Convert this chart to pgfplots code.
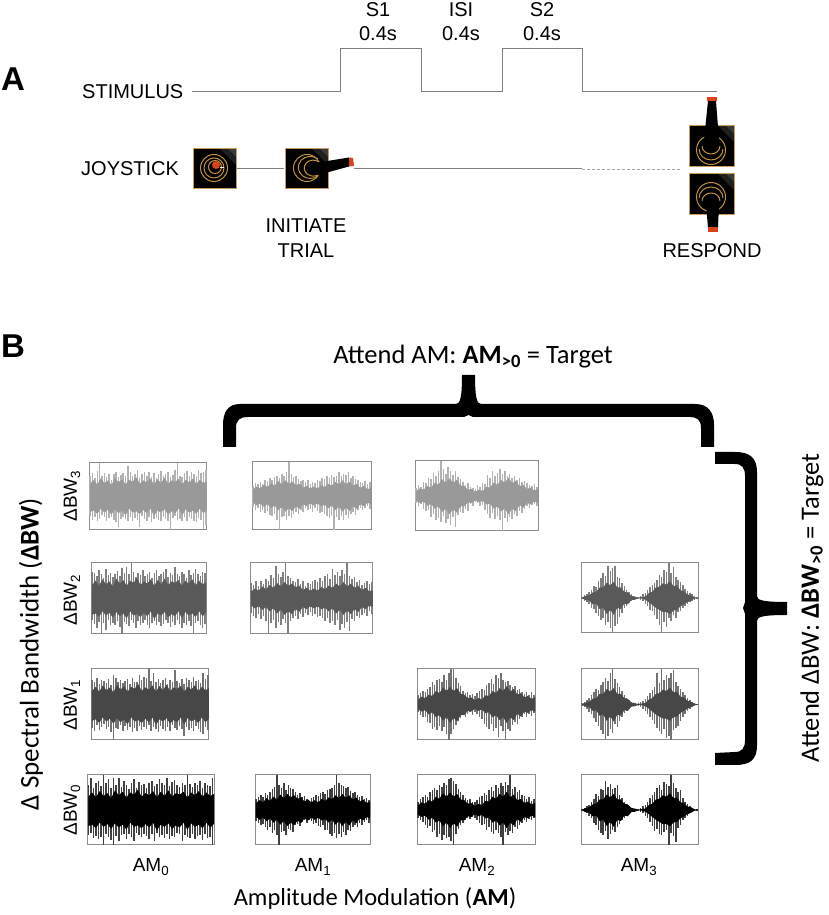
\documentclass[border=0pt]{standalone}
\usepackage{fontspec}
\usepackage{pgfplots}
\usepackage{pgfplotstable}
\pgfplotsset{compat=1.18}
\setmainfont{Liberation Sans}
\newfontfamily\calib{Carlito}
\newcommand\sz[1]{\fontsize{#1}{#1}\selectfont}
\definecolor{stepline}{HTML}{808080}
\definecolor{frameg}{HTML}{8C8C8C}
\definecolor{gold}{HTML}{C0913A}
\definecolor{tan}{HTML}{C89B62}
\definecolor{tip}{HTML}{D8431C}

% waveform peaks, percent of half the frame height, left to right
\pgfplotstableread[row sep=\\]{hi lo\\
60 -58\\70 -70\\55 -62\\75 -72\\100 -66\\62 -56\\70 -60\\58 -74\\68 -64\\50 -60\\
66 -70\\72 -76\\58 -92\\64 -68\\70 -62\\60 -66\\92 -72\\74 -60\\60 -74\\68 -64\\
78 -70\\56 -90\\66 -58\\72 -66\\60 -72\\74 -60\\58 -76\\70 -68\\54 -64\\66 -70\\
76 -74\\60 -60\\68 -66\\72 -72\\58 -100\\64 -64\\80 -58\\100 -70\\62 -66\\58 -72\\
70 -62\\76 -74\\60 -60\\72 -68\\66 -72\\62 -76\\78 -64\\70 -70\\74 -98\\80 -86\\
}\bwthreeamzero
\pgfplotstableread[row sep=\\]{hi lo\\
30 -32\\38 -40\\34 -36\\42 -46\\36 -42\\48 -50\\44 -44\\52 -56\\46 -60\\56 -54\\
60 -70\\52 -100\\66 -62\\58 -58\\70 -72\\100 -60\\64 -66\\56 -54\\60 -48\\50 -52\\
44 -40\\48 -46\\40 -34\\46 -42\\36 -38\\42 -48\\38 -36\\48 -44\\44 -50\\52 -46\\
50 -54\\58 -58\\54 -66\\62 -60\\56 -100\\60 -62\\72 -72\\58 -58\\66 -70\\62 -56\\
70 -66\\54 -52\\60 -48\\50 -56\\46 -42\\42 -36\\38 -40\\44 -34\\36 -30\\40 -38\\
}\bwthreeamone
\pgfplotstableread[row sep=\\]{hi lo\\
22 -20\\30 -28\\26 -24\\40 -36\\36 -44\\52 -40\\48 -60\\66 -52\\58 -70\\70 -62\\
100 -74\\78 -58\\62 -76\\84 -66\\70 -84\\60 -60\\72 -88\\54 -54\\48 -46\\40 -50\\
32 -36\\38 -44\\26 -24\\22 -28\\20 -16\\30 -20\\26 -30\\38 -26\\34 -40\\60 -52\\
50 -62\\72 -48\\58 -66\\66 -58\\76 -70\\62 -100\\70 -64\\56 -74\\64 -60\\52 -66\\
58 -52\\46 -56\\50 -44\\40 -48\\44 -36\\36 -30\\32 -34\\28 -26\\34 -22\\26 -28\\
}\bwthreeamtwo
\pgfplotstableread[row sep=\\]{hi lo\\
76 -60\\72 -72\\62 -82\\80 -66\\70 -100\\58 -70\\84 -88\\66 -60\\72 -74\\60 -68\\
70 -76\\78 -62\\64 -80\\86 -100\\72 -66\\90 -72\\68 -78\\100 -60\\74 -70\\60 -82\\
72 -64\\66 -74\\80 -68\\62 -60\\70 -76\\74 -84\\58 -70\\72 -62\\80 -74\\64 -66\\
70 -78\\76 -72\\84 -60\\60 -70\\72 -80\\66 -66\\88 -74\\70 -60\\62 -72\\74 -84\\
68 -68\\58 -74\\80 -62\\66 -78\\72 -100\\84 -70\\70 -64\\62 -76\\76 -82\\72 -72\\
}\bwtwoamzero
\pgfplotstableread[row sep=\\]{hi lo\\
44 -40\\38 -48\\48 -54\\34 -44\\50 -58\\42 -50\\56 -62\\50 -100\\66 -70\\58 -60\\
92 -84\\70 -66\\60 -76\\76 -58\\100 -70\\64 -100\\58 -62\\50 -56\\46 -50\\54 -58\\
42 -44\\50 -52\\36 -40\\44 -46\\40 -38\\48 -50\\52 -44\\46 -52\\58 -48\\50 -56\\
62 -62\\68 -54\\56 -70\\84 -64\\66 -76\\74 -60\\62 -90\\80 -72\\70 -84\\100 -66\\
64 -92\\56 -58\\60 -62\\46 -50\\52 -54\\38 -46\\44 -40\\50 -48\\40 -36\\46 -44\\
}\bwtwoamone
\pgfplotstableread[row sep=\\]{hi lo\\
4 -4\\8 -8\\12 -12\\18 -18\\24 -28\\34 -32\\30 -44\\48 -52\\56 -64\\70 -58\\
62 -76\\92 -70\\78 -86\\86 -100\\90 -80\\60 -74\\56 -54\\44 -42\\34 -30\\24 -24\\
16 -14\\10 -10\\6 -6\\3 -3\\2 -2\\6 -6\\10 -10\\14 -16\\22 -24\\30 -34\\
36 -38\\44 -50\\50 -60\\66 -76\\60 -100\\80 -68\\74 -84\\100 -58\\72 -66\\88 -48\\
60 -56\\52 -40\\46 -36\\36 -30\\26 -22\\20 -16\\14 -12\\10 -8\\6 -5\\3 -3\\
}\bwtwoamthree
\pgfplotstableread[row sep=\\]{hi lo\\
70 -66\\62 -74\\76 -58\\58 -72\\68 -62\\66 -56\\60 -70\\72 -64\\56 -78\\84 -100\\
74 -66\\62 -70\\70 -58\\60 -76\\66 -60\\72 -72\\58 -62\\76 -78\\64 -66\\62 -74\\
82 -60\\70 -72\\78 -64\\74 -68\\100 -58\\66 -76\\90 -62\\62 -70\\72 -78\\60 -60\\
68 -68\\74 -74\\58 -62\\70 -76\\62 -58\\96 -66\\66 -72\\60 -60\\72 -70\\58 -90\\
74 -62\\68 -72\\62 -66\\78 -74\\66 -60\\70 -70\\60 -78\\90 -84\\72 -64\\84 -72\\
}\bwoneamzero
\pgfplotstableread[row sep=\\]{hi lo\\
26 -22\\32 -30\\38 -36\\34 -34\\44 -48\\48 -52\\62 -68\\54 -62\\68 -72\\72 -60\\
64 -76\\82 -64\\70 -82\\90 -100\\100 -84\\100 -70\\76 -58\\60 -46\\52 -38\\38 -30\\
32 -34\\36 -26\\26 -22\\30 -30\\24 -20\\32 -28\\38 -34\\44 -40\\40 -56\\54 -62\\
60 -70\\72 -54\\58 -74\\84 -66\\76 -92\\90 -60\\70 -76\\62 -100\\66 -68\\54 -74\\
48 -58\\52 -50\\40 -54\\44 -42\\34 -36\\30 -28\\36 -34\\28 -26\\34 -32\\26 -24\\
}\bwoneamtwo
\pgfplotstableread[row sep=\\]{hi lo\\
3 -3\\7 -8\\12 -12\\18 -20\\26 -28\\36 -38\\44 -48\\42 -60\\56 -72\\62 -84\\
76 -100\\66 -90\\90 -70\\100 -80\\72 -56\\60 -64\\48 -46\\38 -36\\26 -24\\18 -18\\
12 -12\\8 -6\\4 -4\\2 -2\\3 -3\\6 -6\\10 -12\\16 -18\\24 -26\\32 -34\\
40 -44\\50 -56\\88 -66\\60 -74\\100 -84\\70 -70\\84 -94\\76 -90\\90 -100\\96 -72\\
62 -66\\52 -60\\44 -46\\34 -34\\26 -26\\18 -18\\12 -12\\8 -7\\4 -4\\2 -2\\
}\bwoneamthree
\pgfplotstableread[row sep=\\]{hi lo\\
70 -72\\92 -66\\64 -80\\78 -74\\82 -84\\68 -76\\100 -100\\76 -70\\88 -78\\62 -86\\
90 -100\\72 -74\\92 -88\\66 -72\\84 -68\\70 -82\\60 -70\\76 -76\\88 -90\\64 -66\\
80 -72\\70 -78\\74 -68\\62 -74\\78 -84\\84 -70\\68 -88\\74 -66\\88 -76\\78 -72\\
70 -80\\92 -68\\68 -84\\80 -74\\86 -78\\72 -66\\66 -70\\76 -90\\70 -72\\100 -76\\
74 -80\\66 -68\\78 -84\\70 -74\\84 -72\\62 -86\\76 -70\\72 -80\\68 -78\\90 -100\\
}\bwzeroamzero
\pgfplotstableread[row sep=\\]{hi lo\\
30 -32\\36 -38\\42 -44\\38 -40\\48 -48\\44 -56\\52 -50\\60 -66\\66 -58\\100 -72\\
72 -100\\62 -64\\78 -60\\58 -72\\70 -54\\64 -58\\60 -62\\52 -44\\44 -40\\48 -46\\
36 -34\\40 -30\\30 -36\\26 -28\\34 -32\\38 -40\\44 -36\\40 -46\\48 -50\\52 -44\\
46 -58\\56 -56\\60 -68\\64 -74\\70 -66\\100 -80\\76 -70\\72 -78\\68 -64\\62 -72\\
66 -56\\54 -60\\48 -48\\52 -44\\44 -50\\36 -38\\40 -42\\30 -34\\34 -30\\28 -36\\
}\bwzeroamone
\pgfplotstableread[row sep=\\]{hi lo\\
24 -22\\30 -28\\36 -34\\42 -44\\38 -52\\50 -46\\56 -64\\62 -58\\58 -78\\72 -70\\
66 -86\\78 -72\\70 -80\\88 -76\\92 -90\\84 -100\\74 -68\\60 -54\\50 -44\\42 -36\\
34 -30\\28 -22\\32 -26\\24 -20\\22 -24\\28 -30\\36 -36\\40 -44\\48 -40\\44 -56\\
58 -50\\66 -62\\54 -70\\72 -58\\62 -66\\76 -76\\68 -100\\80 -64\\70 -72\\100 -60\\
60 -66\\66 -50\\52 -54\\56 -42\\44 -36\\40 -30\\32 -34\\36 -26\\26 -30\\30 -24\\
}\bwzeroamtwo
\pgfplotstableread[row sep=\\]{hi lo\\
3 -3\\6 -6\\10 -10\\14 -16\\22 -24\\30 -36\\46 -44\\40 -56\\60 -66\\56 -72\\
82 -60\\66 -82\\74 -70\\60 -58\\64 -64\\72 -50\\44 -40\\34 -30\\24 -22\\16 -14\\
10 -10\\6 -6\\3 -3\\2 -2\\3 -3\\6 -6\\10 -10\\14 -16\\22 -24\\34 -34\\
44 -46\\52 -60\\62 -54\\72 -68\\58 -72\\80 -64\\74 -58\\68 -100\\100 -66\\78 -74\\
62 -92\\50 -52\\56 -44\\34 -30\\24 -24\\18 -16\\10 -10\\6 -6\\3 -3\\2 -2\\
}\bwzeroamthree

% solid middle of the waveform, one jagged outline per modulation depth
\pgfplotstableread[row sep=\\]{x y\\
1 38\\2.5 50\\4 36\\5.5 54\\7 40\\8.5 48\\10 34\\11.5 56\\13 42\\14.5 52\\16 36\\17.5 50\\
19 44\\20.5 58\\22 38\\23.5 48\\25 42\\26.5 54\\28 36\\29.5 52\\31 40\\32.5 56\\34 38\\35.5 48\\
37 44\\38.5 52\\40 36\\41.5 50\\43 42\\44.5 54\\46 38\\47.5 50\\49 40\\50.5 46\\
50.5 -40\\49 -50\\47.5 -36\\46 -52\\44.5 -42\\43 -48\\41.5 -38\\40 -56\\38.5 -36\\37 -50\\35.5 -44\\34 -54\\
32.5 -38\\31 -48\\29.5 -42\\28 -58\\26.5 -36\\25 -50\\23.5 -40\\22 -52\\20.5 -44\\19 -48\\17.5 -36\\16 -56\\
14.5 -42\\13 -50\\11.5 -38\\10 -54\\8.5 -40\\7 -48\\5.5 -36\\4 -52\\2.5 -42\\1 -46\\
}\corezero
\pgfplotstableread[row sep=\\]{x y\\
1 20\\2.5 28\\4 22\\5.5 34\\7 26\\8.5 38\\10 30\\11.5 44\\13 34\\14.5 46\\16 36\\17.5 42\\
19 32\\20.5 36\\22 24\\23.5 30\\25 22\\26.5 28\\28 22\\29.5 32\\31 26\\32.5 36\\34 30\\35.5 42\\
37 34\\38.5 46\\40 34\\41.5 42\\43 30\\44.5 36\\46 24\\47.5 30\\49 20\\50.5 24\\
50.5 -24\\49 -20\\47.5 -30\\46 -24\\44.5 -38\\43 -30\\41.5 -44\\40 -34\\38.5 -46\\37 -32\\35.5 -42\\34 -28\\
32.5 -36\\31 -26\\29.5 -30\\28 -22\\26.5 -28\\25 -22\\23.5 -30\\22 -24\\20.5 -38\\19 -30\\17.5 -44\\16 -36\\
14.5 -46\\13 -32\\11.5 -42\\10 -28\\8.5 -36\\7 -24\\5.5 -32\\4 -22\\2.5 -28\\1 -20\\
}\coreone
\pgfplotstableread[row sep=\\]{x y\\
1 14\\2.5 22\\4 18\\5.5 28\\7 24\\8.5 38\\10 32\\11.5 48\\13 38\\14.5 50\\16 38\\17.5 46\\
19 30\\20.5 28\\22 18\\23.5 20\\25 12\\26.5 18\\28 14\\29.5 26\\31 24\\32.5 38\\34 32\\35.5 46\\
37 38\\38.5 52\\40 36\\41.5 44\\43 28\\44.5 32\\46 20\\47.5 24\\49 16\\50.5 20\\
50.5 -20\\49 -16\\47.5 -24\\46 -20\\44.5 -34\\43 -26\\41.5 -44\\40 -36\\38.5 -52\\37 -36\\35.5 -44\\34 -30\\
32.5 -36\\31 -22\\29.5 -24\\28 -14\\26.5 -18\\25 -12\\23.5 -20\\22 -18\\20.5 -30\\19 -30\\17.5 -48\\16 -38\\
14.5 -52\\13 -36\\11.5 -46\\10 -30\\8.5 -36\\7 -22\\5.5 -28\\4 -16\\2.5 -20\\1 -14\\
}\coretwo
\pgfplotstableread[row sep=\\]{x y\\
1 1\\2.5 6\\4 8\\5.5 16\\7 18\\8.5 30\\10 30\\11.5 44\\13 36\\14.5 46\\16 30\\17.5 30\\
19 18\\20.5 16\\22 6\\23.5 4\\25 1\\26.5 3\\28 4\\29.5 14\\31 18\\32.5 30\\34 32\\35.5 42\\
37 38\\38.5 48\\40 34\\41.5 36\\43 22\\44.5 20\\46 10\\47.5 8\\49 2\\50.5 1\\
50.5 -1\\49 -2\\47.5 -8\\46 -12\\44.5 -18\\43 -24\\41.5 -34\\40 -36\\38.5 -46\\37 -40\\35.5 -40\\34 -34\\
32.5 -28\\31 -20\\29.5 -12\\28 -5\\26.5 -2\\25 -1\\23.5 -5\\22 -6\\20.5 -18\\19 -16\\17.5 -32\\16 -28\\
14.5 -48\\13 -34\\11.5 -46\\10 -28\\8.5 -32\\7 -16\\5.5 -18\\4 -7\\2.5 -6\\1 -1\\
}\corethree

% #1 left #2 top #3 right #4 bottom (pixels), #5 peaks, #6 core, #7 peak colour, #8 core colour
\newcommand\panel[8]{%
  \pgfmathsetlengthmacro\pw{(#3-#1)*1pt}%
  \pgfmathsetlengthmacro\ph{(#4-#2)*1pt}%
  \pgfmathsetlengthmacro\py{(915-#4)*1pt}%
  \begin{axis}[at={(#1pt,\py)},anchor=south west,scale only axis,width=\pw,height=\ph,
    xmin=0.5,xmax=50.5,ymin=-100,ymax=100,ticks=none,
    axis line style={frameg,line width=1pt}]
    \addplot[ycomb,no marks,color=#7,line width=1.5pt] table[x expr=\coordindex+1,y=hi] {#5};
    \addplot[ycomb,no marks,color=#7,line width=1.5pt] table[x expr=\coordindex+1,y=lo] {#5};
    \addplot[fill=#8,draw=none] table[x=x,y=y] {#6} -- cycle;
  \end{axis}}

% dark square behind a joystick
\newcommand\jbox[4]{%
  \fill[black] (#1,#2) rectangle (#3,#4);
  \fill[white,opacity=.12] (#3-16,#2) -- (#3,#2) -- (#3,#2+16) -- cycle;
  \fill[white,opacity=.12] (#3-8,#2) -- (#3,#2) -- (#3,#2+8) -- cycle;
  \draw[tan,line width=1pt] (#1,#2) rectangle (#3,#4);}

\begin{document}
\begin{tikzpicture}
\useasboundingbox (0,0) rectangle (828pt,915pt);
\begin{axis}[at={(0,0)},anchor=south west,scale only axis,width=828pt,height=915pt,
  xmin=0,xmax=828,ymin=0,ymax=915,y dir=reverse,axis lines=none,clip=false]
  \addplot[stepline,line width=1pt] coordinates {(192,92) (340,92) (340,49) (421,49) (421,92) (502,92) (502,49) (582,49) (582,92) (717,92)};
  \addplot[stepline,line width=1pt] coordinates {(237,169) (284,169)};
  \addplot[stepline,line width=1pt] coordinates {(354,169) (582,169)};
  \addplot[gray!70,line width=.8pt,dash pattern=on 3pt off 2pt] coordinates {(582,169) (682,169)};
\end{axis}

\panel{89}{463}{207}{530}{\bwthreeamzero}{\corezero}{black!30}{black!40}
\panel{252}{462}{371}{530}{\bwthreeamone}{\coreone}{black!30}{black!40}
\panel{415}{461}{538}{531}{\bwthreeamtwo}{\coretwo}{black!30}{black!40}
\panel{91}{563}{206}{634}{\bwtwoamzero}{\corezero}{black!50}{black!65}
\panel{250}{563}{373}{634}{\bwtwoamone}{\coreone}{black!50}{black!65}
\panel{581}{563}{698}{633}{\bwtwoamthree}{\corethree}{black!50}{black!65}
\panel{91}{669}{209}{740}{\bwoneamzero}{\corezero}{black!55}{black!72}
\panel{417}{669}{535}{740}{\bwoneamtwo}{\coretwo}{black!55}{black!72}
\panel{581}{669}{698}{740}{\bwoneamthree}{\corethree}{black!55}{black!72}
\panel{87}{775}{214}{845}{\bwzeroamzero}{\corezero}{black!75}{black}
\panel{255}{775}{370}{845}{\bwzeroamone}{\coreone}{black!75}{black}
\panel{417}{775}{535}{845}{\bwzeroamtwo}{\coretwo}{black!75}{black}
\panel{581}{775}{698}{845}{\bwzeroamthree}{\corethree}{black!75}{black}

\begin{scope}[x=1pt,y=-1pt,shift={(0pt,915pt)},every node/.style={inner sep=0pt,align=center}]
  % panel A text
  \node[font=\sz{33}\bfseries] at (13,79) {A};
  \node[font=\sz{20}] at (378,10) {S1};
  \node[font=\sz{20}] at (378,34) {0.4s};
  \node[font=\sz{20}] at (461,10) {ISI};
  \node[font=\sz{20}] at (461,34) {0.4s};
  \node[font=\sz{20}] at (542,10) {S2};
  \node[font=\sz{20}] at (542,34) {0.4s};
  \node[font=\sz{20},anchor=west] at (82,92) {STIMULUS};
  \node[font=\sz{20},anchor=west] at (81,169) {JOYSTICK};
  \node[font=\sz{20}] at (306,226) {INITIATE};
  \node[font=\sz{20}] at (306,251) {TRIAL};
  \node[font=\sz{20}] at (712,251) {RESPOND};

  % joystick, centre
  \jbox{193}{149}{236}{189}
  \draw[gold,line width=1pt] (214,168) circle (13.5) (214,168) circle (10) (215,167) circle (6.5);
  \fill[tip] (216,165) circle (4);
  \draw[white,line width=.8pt] (220,167) -- (224,167);
  % joystick, pushed right
  \jbox{285}{149}{328}{189}
  \draw[gold,line width=1pt] (307,168) circle (13.5);
  \draw[gold,line width=1pt] (318,159) arc (-50:-310:12 and 11);
  \draw[gold,line width=1pt] (319,162) arc (-50:-310:9 and 8);
  \fill[black] (315,163) -- (349,157.5) -- (349,166.5) -- (318,175) .. controls (312,174) and (312,165) .. (315,163) -- cycle;
  \fill[tip] (349,157.5) -- (353,158) -- (354,166) -- (349,166.5) -- cycle;
  % joystick, pushed up
  \jbox{689}{126}{734}{167}
  \draw[gold,line width=1pt] (711,150) circle (14.5);
  \draw[gold,line width=1pt] (699,149) arc (180:0:12 and 11);
  \draw[gold,line width=1pt] (702,146) arc (180:0:9 and 8);
  \fill[black] (708,101) -- (716,101) -- (719,140) .. controls (719,145) and (704,145) .. (704,140) -- cycle;
  \fill[tip] (707,97) rectangle (717,101);
  % joystick, pushed down
  \jbox{689}{174}{734}{215}
  \draw[gold,line width=1pt] (711,197) circle (14.5);
  \draw[gold,line width=1pt] (699,198) arc (180:360:12 and 11);
  \draw[gold,line width=1pt] (702,201) arc (180:360:9 and 8);
  \fill[black] (706,204) .. controls (706,199) and (719,199) .. (719,204) -- (718,228) -- (708,228) -- cycle;
  \fill[tip] (708,227) rectangle (718,232);

  % panel B text
  \node[font=\sz{33}\bfseries] at (13,346) {B};
  \node[font=\calib\sz{26.5}] at (473,357) {Attend AM: \textbf{AM\textsubscript{>0}} = Target};
  \node[font=\calib\sz{24.5}] at (375,899) {Amplitude Modulation (\textbf{AM})};
  \node[font=\calib\sz{27},rotate=90] at (31,654) {Δ Spectral Bandwidth (\textbf{ΔBW})};
  \node[font=\calib\sz{26.5},rotate=90] at (812,608) {Attend ΔBW: \textbf{ΔBW\textsubscript{>0}} = Target};
  \node[font=\sz{19},rotate=90] at (72,496) {ΔBW\textsubscript{3}};
  \node[font=\sz{19},rotate=90] at (72,600) {ΔBW\textsubscript{2}};
  \node[font=\sz{19},rotate=90] at (72,705) {ΔBW\textsubscript{1}};
  \node[font=\sz{19},rotate=90] at (72,810) {ΔBW\textsubscript{0}};
  \node[font=\sz{19}] at (151,867) {AM\textsubscript{0}};
  \node[font=\sz{19}] at (313,867) {AM\textsubscript{1}};
  \node[font=\sz{19}] at (477,867) {AM\textsubscript{2}};
  \node[font=\sz{19}] at (639,867) {AM\textsubscript{3}};

  % braces
  \fill[black] (223,447) -- (223,425) .. controls (223,412) and (228,404) .. (240,404) -- (456,404)
    .. controls (460,404) and (462,398) .. (462,375) -- (475,375) .. controls (475,398) and (477,404) .. (481,404)
    -- (695,404) .. controls (708,404) and (714,412) .. (714,425) -- (714,447) -- (701,447) -- (701,428)
    .. controls (701,420) and (697,417) .. (690,417) -- (473,417) -- (468.5,415) -- (464,417) -- (248,417)
    .. controls (240,417) and (236,420) .. (236,428) -- (236,447) -- cycle;
  \fill[black] (715,452) -- (735,452) .. controls (750,452) and (757,458) .. (757,472) -- (757,596)
    .. controls (757,600) and (762,602) .. (787,602) -- (787,615) .. controls (762,615) and (757,617) .. (757,621)
    -- (757,745) .. controls (757,760) and (750,765) .. (735,765) -- (715,765) -- (715,753) -- (735,752)
    .. controls (742,752) and (745,748) .. (745,740) -- (745,614) -- (743,608) -- (745,602) -- (745,476)
    .. controls (745,468) and (742,464) .. (735,464) -- (715,464) -- cycle;
\end{scope}
\end{tikzpicture}
\end{document}
